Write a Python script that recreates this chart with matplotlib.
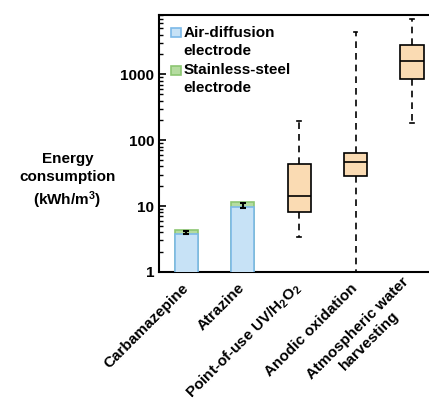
import numpy as np
import matplotlib
matplotlib.use('Agg')
import matplotlib.pyplot as plt
from matplotlib.patches import Rectangle

plt.rcParams['font.family'] = ['Liberation Sans', 'DejaVu Sans']
plt.rcParams['font.weight'] = 'bold'
plt.rcParams['axes.labelweight'] = 'bold'
plt.rcParams['font.size'] = 10
plt.rcParams['mathtext.fontset'] = 'custom'
plt.rcParams['mathtext.rm'] = 'Liberation Sans:bold'
plt.rcParams['mathtext.bf'] = 'Liberation Sans:bold'
plt.rcParams['mathtext.default'] = 'rm'

# data
categories = ['Carbamazepine', 'Atrazine', 'Point-of-use UV/H$_2$O$_2$',
              'Anodic oxidation', 'Atmospheric water\nharvesting']
legend_labels = [['Air-diffusion', 'electrode'], ['Stainless-steel', 'electrode']]
air_diffusion = [3.8, 9.8]
stainless = [4.4, 11.7]
bar_err_low = [3.7, 9.3]
bar_err_high = [4.2, 11.0]

# boxes: whislo, q1, med, q3, whishi
box_whislo = [3.4, 1.0, 182]
box_q1 = [8.2, 29, 855]
box_med = [14, 46, 1620]
box_q3 = [43, 63, 2800]
box_whishi = [195, 4460, 7000]

blue_f, blue_e = '#c7e2f6', '#7cb9e8'
green_f, green_e = '#b5dca0', '#8cc672'

fig = plt.figure(figsize=(4.29, 4.12), dpi=100)
ax = fig.add_axes([0.371, 0.340, 0.629, 0.624])

w = 0.41
xb = np.arange(len(air_diffusion))
ax.bar(xb, stainless, width=w, color=green_f, edgecolor=green_e, linewidth=1.2, zorder=2)
ax.bar(xb, air_diffusion, width=w, color=blue_f, edgecolor=blue_e, linewidth=1.2, zorder=3)
mid = [(a + b) / 2 for a, b in zip(bar_err_low, bar_err_high)]
yerr = [[m - l for m, l in zip(mid, bar_err_low)], [h - m for m, h in zip(mid, bar_err_high)]]
ax.errorbar(xb, mid, yerr=yerr, fmt='none', ecolor='black', elinewidth=1.5, capsize=2.5, capthick=1.5, zorder=4)

stats = []
for i in range(len(box_med)):
    stats.append(dict(whislo=box_whislo[i], q1=box_q1[i], med=box_med[i],
                      q3=box_q3[i], whishi=box_whishi[i], fliers=[]))
pos = np.arange(len(air_diffusion), len(categories))
ax.bxp(stats, positions=pos, widths=w, patch_artist=True, showfliers=False,
       boxprops=dict(facecolor='#fadbb3', edgecolor='black', linewidth=1.2),
       medianprops=dict(color='black', linewidth=1.2),
       whiskerprops=dict(color='black', linewidth=1.2, linestyle=(0, (4, 3))),
       capprops=dict(color='black', linewidth=1.2), capwidths=0.06, zorder=3)

ax.set_yscale('log')
ax.set_ylim(1, 8000)
ax.set_xlim(-0.48, 4.3)
ax.set_yticks([1, 10, 100, 1000])
ax.set_yticklabels(['1', '10', '100', '1000'], fontsize=11)
ax.tick_params(axis='y', which='major', direction='in', length=5, width=1.2)
ax.tick_params(axis='y', which='minor', direction='in', length=3, width=1)
ax.set_xticks(range(len(categories)))
ax.set_xticklabels(categories, rotation=45, ha='right', va='center', rotation_mode='anchor',
                   fontsize=11, ma='center')
ax.tick_params(axis='x', length=0, pad=10)

for s in ['left', 'bottom', 'top']:
    ax.spines[s].set_linewidth(1.5)
ax.spines['right'].set_visible(False)

ax.set_ylabel('Energy\nconsumption\n(kWh/m$^3$)', rotation=0, fontsize=11, va='center', ha='center',
              linespacing=1.35)
ax.yaxis.set_label_coords(-0.34, 0.352)

# legend, square next to the first line of each entry
leg_y = [0.930, 0.785]
leg_cols = [(blue_f, blue_e), (green_f, green_e)]
for yy, (fc, ec), lines in zip(leg_y, leg_cols, legend_labels):
    ax.add_patch(Rectangle((0.044, yy - 0.0175), 0.036, 0.035, transform=ax.transAxes,
                           facecolor=fc, edgecolor=ec, linewidth=1.2, clip_on=False))
    ax.text(0.089, yy, lines[0], transform=ax.transAxes, fontsize=11, va='center', ha='left')
    ax.text(0.089, yy - 0.07, lines[1], transform=ax.transAxes, fontsize=11, va='center', ha='left')

plt.savefig('out.png', dpi=100)
